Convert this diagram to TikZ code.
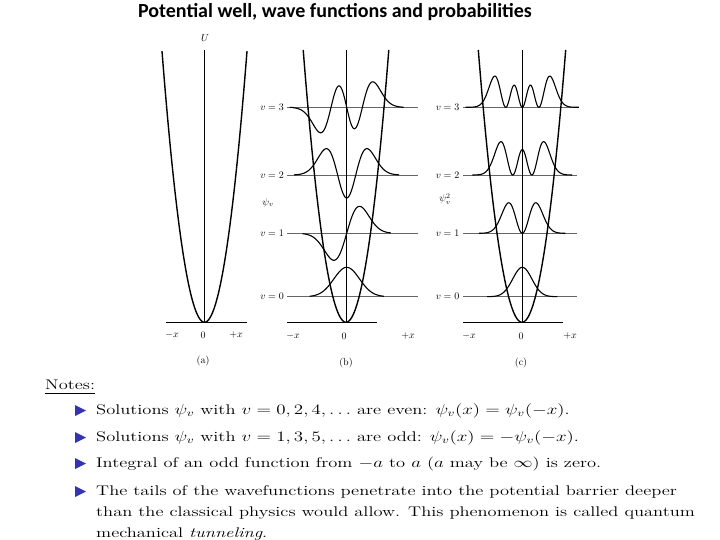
\documentclass[tikz,border=0pt]{standalone}
\usepackage{fontspec}
\newfontfamily\titlefont{Carlito}
\definecolor{bulletblue}{RGB}{52,52,178}
\newcommand\stretchtext[1]{\scalebox{1.32}[1]{#1}}
\begin{document}
\begin{tikzpicture}[x=1pt,y=-1pt,
  para/.style={line width=1.4pt, black},
  wave/.style={line width=1.1pt, black},
  levelline/.style={line width=0.9pt, black!60},
  axisline/.style={line width=0.7pt, black},
  lab/.style={font=\fontsize{10}{12}\selectfont, inner sep=0pt},
  note/.style={font=\fontsize{14}{21}\selectfont, inner sep=0pt, anchor=base west},
  bullet/.style={fill=bulletblue},
]
\useasboundingbox (0,0) rectangle (720,540);

% title
\node[inner sep=0pt, font=\titlefont\bfseries\fontsize{20}{22}\selectfont] (title) at (335,12) {Potential well, wave functions and probabilities};

% ---------- panel (a)
\draw[axisline] (166,322.3) -- (246.5,322.3);
\draw[axisline] (204.5,50) -- (204.5,322.3);
\draw[para] plot[domain=-42.5:42.5, samples=80, smooth] ({204.5+\x}, {322.3-0.1501*(\x)*(\x)});
\node[lab] (aU) at (205,38) {$U$};
\node[lab] (amx) at (172,335) {$-x$};
\node[lab] (a0) at (203,335) {$0$};
\node[lab] (apx) at (236,335) {$+x$};
\node[lab] (acap) at (203,361) {(a)};

% ---------- panel (b)
\draw[levelline] (287,107.3) -- (417.5,107.3);
\draw[levelline] (287,175) -- (417.5,175);
\draw[levelline] (287,233.3) -- (417.5,233.3);
\draw[levelline] (287,296.7) -- (417.5,296.7);
\draw[axisline] (287,322.3) -- (377,322.3);
\draw[axisline] (346.5,50) -- (346.5,322.3);
\draw[para] plot[domain=-42.8:42.8, samples=80, smooth] ({346+\x}, {322.3-0.1487*(\x)*(\x)});
\draw[wave] plot[domain=-2.9:2.9, samples=80, smooth] ({346.7+12.8*\x}, {296.7-29.4*exp(-(\x)*(\x)/2)});
\draw[wave] plot[domain=-3.45:3.45, samples=90, smooth] ({346.7+12.8*\x}, {233.3-44.5*(\x)*exp(-(\x)*(\x)/2)});
\draw[wave] plot[domain=-4.1:4.1, samples=110, smooth] ({346.7+12.8*\x}, {175-23*exp(-(\x)*(\x)/2)*(2*(\x)*(\x)-1)});
\draw[wave] plot[domain=-4.45:4.45, samples=130, smooth] ({346.7+12.8*\x}, {107.3-18.8*exp(-(\x)*(\x)/2)*(2*(\x)*(\x)*(\x)-3*(\x))});
\node[lab, anchor=east] (b3) at (284,107.3) {$v = 3$};
\node[lab, anchor=east] (b2) at (284,175) {$v = 2$};
\node[lab, anchor=east] (b1) at (284,233.3) {$v = 1$};
\node[lab, anchor=east] (b0) at (284,296.7) {$v = 0$};
\node[lab] (bpsi) at (268,203) {$\psi_v$};
\node[lab] (bmx) at (293,336) {$-x$};
\node[lab] (b0x) at (344,336.5) {$0$};
\node[lab] (bpx) at (408,336) {$+x$};
\node[lab] (bcap) at (346,363) {(b)};

% ---------- panel (c)
\draw[levelline] (463.3,107.3) -- (577,107.3);
\draw[levelline] (463.3,175) -- (577,175);
\draw[levelline] (463.3,233.3) -- (577,233.3);
\draw[levelline] (463.3,296.7) -- (577,296.7);
\draw[axisline] (463.3,322.3) -- (563.3,322.3);
\draw[axisline] (522.3,50) -- (522.3,322.3);
\draw[para] plot[domain=-43.7:43.7, samples=80, smooth] ({522+\x}, {322.3-0.1426*(\x)*(\x)});
\draw[wave] plot[domain=-2.6:2.6, samples=80, smooth] ({522.3+13.5*\x}, {296.7-29.4*exp(-(\x)*(\x))});
\draw[wave] plot[domain=-3.2:3.2, samples=100, smooth] ({522.3+13.5*\x}, {233.3-83*exp(-(\x)*(\x))*(\x)*(\x)});
\draw[wave] plot[domain=-3.7:3.7, samples=140, smooth] ({522.3+13.5*\x}, {175-25.4*(exp(-(\x)*(\x)/2)*(2*(\x)*(\x)-1))*(exp(-(\x)*(\x)/2)*(2*(\x)*(\x)-1))});
\draw[wave] plot[domain=-4.2:4.2, samples=170, smooth] ({522.3+13.5*\x}, {107.3-17*(exp(-(\x)*(\x)/2)*(2*(\x)*(\x)*(\x)-3*(\x)))*(exp(-(\x)*(\x)/2)*(2*(\x)*(\x)*(\x)-3*(\x)))});
\node[lab, anchor=east] (c3) at (459.5,107.3) {$v = 3$};
\node[lab, anchor=east] (c2) at (459.5,175) {$v = 2$};
\node[lab, anchor=east] (c1) at (459.5,233.3) {$v = 1$};
\node[lab, anchor=east] (c0) at (459.5,296.7) {$v = 0$};
\node[lab] (cpsi) at (445,199) {$\psi_v^2$};
\node[lab] (cmx) at (469,336) {$-x$};
\node[lab] (c0x) at (521,336.5) {$0$};
\node[lab] (cpx) at (570,336) {$+x$};
\node[lab] (ccap) at (521,363) {(c)};

% ---------- notes
\node[note] (notes) at (45,389) {\stretchtext{Notes:}};
\draw[line width=0.8pt] ([yshift=-4.5pt]notes.base west) -- ([yshift=-4.5pt]notes.base east);

\fill[bullet] (75,405) -- (86,410.5) -- (75,416) -- cycle;
\node[note] (n1) at (96,414.5) {\stretchtext{Solutions $\psi_v$ with $v = 0, 2, 4, \dots$ are even: $\psi_v(x) = \psi_v(-x)$.}};
\fill[bullet] (75,432) -- (86,437.5) -- (75,443) -- cycle;
\node[note] (n2) at (96,441.5) {\stretchtext{Solutions $\psi_v$ with $v = 1, 3, 5, \dots$ are odd: $\psi_v(x) = -\psi_v(-x)$.}};
\fill[bullet] (75,458) -- (86,463.5) -- (75,469) -- cycle;
\node[note] (n3) at (96,467.5) {\stretchtext{Integral of an odd function from $-a$ to $a$ ($a$ may be $\infty$) is zero.}};
\fill[bullet] (75,486) -- (86,491.5) -- (75,497) -- cycle;
\node[note] (n4a) at (96,495.5) {\stretchtext{The tails of the wavefunctions penetrate into the potential barrier deeper}};
\node[note] (n4b) at (96,516.5) {\stretchtext{than the classical physics would allow. This phenomenon is called quantum}};
\node[note] (n4c) at (96,537.5) {\stretchtext{mechanical \textit{tunneling}.}};
\end{tikzpicture}
\end{document}
